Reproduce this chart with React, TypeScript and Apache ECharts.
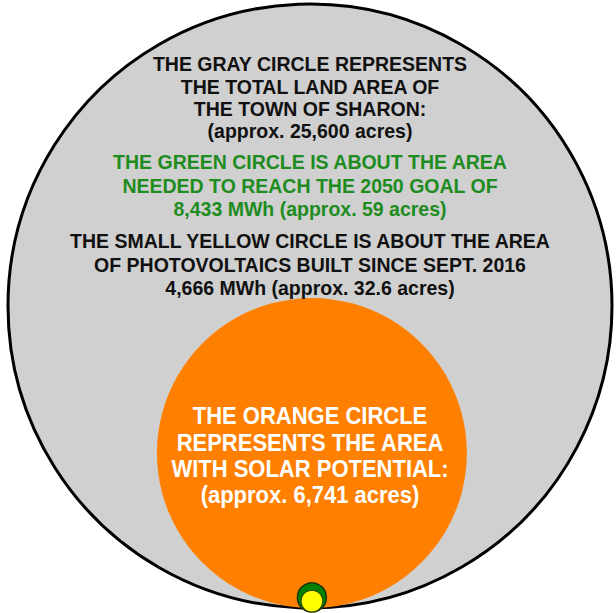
import React, { useEffect, useRef } from "react";
import * as echarts from "echarts";

// ---- data ----
const CATEGORIES = [
  "Total land area of Sharon",
  "Area with solar potential",
  "Area needed for 2050 goal",
  "Photovoltaics built since Sept. 2016",
];
const ACRES = [25600, 6741, 59, 32.6];

const GRAY_LINES = [
  "THE GRAY CIRCLE REPRESENTS",
  "THE TOTAL LAND AREA OF",
  "THE TOWN OF SHARON:",
  "(approx. 25,600 acres)",
];
const GREEN_LINES = [
  "THE GREEN CIRCLE IS ABOUT THE AREA",
  "NEEDED TO REACH THE 2050 GOAL OF",
  "8,433 MWh (approx. 59 acres)",
];
const YELLOW_LINES = [
  "THE SMALL YELLOW CIRCLE IS ABOUT THE AREA",
  "OF PHOTOVOLTAICS BUILT SINCE SEPT. 2016",
  "4,666 MWh (approx. 32.6 acres)",
];
const ORANGE_LINES = [
  "THE ORANGE CIRCLE",
  "REPRESENTS THE AREA",
  "WITH SOLAR POTENTIAL:",
  "(approx. 6,741 acres)",
];

// ---- styles ----
const CIRCLE_STYLES = [
  { fill: "#d0d0d0", stroke: "#000000", lineWidth: 3, dx: 0, dy: 0 },
  { fill: "#ff8000", stroke: null, lineWidth: 0, dx: 1, dy: 0 },
  { fill: "#008000", stroke: "#143a0a", lineWidth: 1.5, dx: 1, dy: -2.1 },
  { fill: "#ffff00", stroke: "#3a3a00", lineWidth: 1, dx: 1, dy: -2.1 },
];

const W = 616;
const H = 613;
const K = 302 / Math.sqrt(ACRES[0]); // px per sqrt-acre unit
const CX = 310;
const BOTTOM = 608;

const FONT = "Liberation Sans, Arial, Helvetica, sans-serif";

function textBlock(lines: string[], y0: number, step: number, color: string, size: number) {
  return lines.map((t, i) => ({
    type: "text",
    x: CX,
    y: y0 + i * step,
    z: 100,
    scaleY: 1.07,
    style: {
      text: t,
      align: "center",
      verticalAlign: "middle",
      fill: color,
      fontSize: size,
      fontWeight: "bold",
      fontFamily: FONT,
    },
  }));
}

export default function App() {
  const ref = useRef<HTMLDivElement>(null);
  useEffect(() => {
    if (!ref.current) return;
    const chart = echarts.init(ref.current, undefined, { renderer: "svg" });
    const data = ACRES.map((a, i) => ({ name: CATEGORIES[i], value: [a, i] }));
    chart.setOption({
      animation: false,
      grid: { left: 0, right: 0, top: 0, bottom: 0, containLabel: false },
      xAxis: { type: "value", min: -CX / K, max: (W - CX) / K, show: false },
      yAxis: { type: "value", min: -(H - BOTTOM) / K, max: BOTTOM / K, show: false },
      series: [
        {
          type: "custom",
          clip: false,
          data,
          renderItem: (params: any, api: any) => {
            const acres = api.value(0);
            const idx = api.value(1);
            const st = CIRCLE_STYLES[idx];
            const r = Math.sqrt(acres);
            const c = api.coord([st.dx, r + st.dy]);
            const rp = api.size([r, r])[1];
            return {
              type: "circle",
              shape: { cx: c[0], cy: c[1], r: rp },
              style: {
                fill: st.fill,
                stroke: st.stroke || undefined,
                lineWidth: st.lineWidth,
              },
            };
          },
        },
      ],
      graphic: [
        ...textBlock(GRAY_LINES, 64, 22.4, "#111111", 19.5),
        ...textBlock(GREEN_LINES, 162, 23.5, "#1e8c1e", 19.5),
        ...textBlock(YELLOW_LINES, 241, 23.5, "#111111", 19.5),
        ...textBlock(ORANGE_LINES, 416, 26.3, "#ffffff", 22),
      ],
    });
    return () => chart.dispose();
  }, []);
  return (
    <div
      ref={ref}
      style={{ position: "fixed", left: 0, top: 0, width: W, height: H, background: "#ffffff" }}
    />
  );
}
